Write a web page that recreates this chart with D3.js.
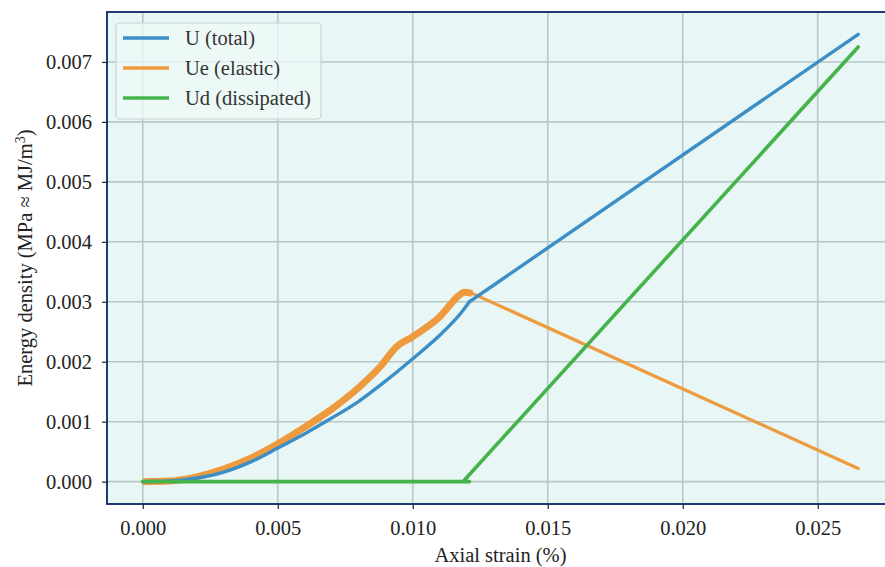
<!DOCTYPE html>
<html><head><meta charset="utf-8">
<script src="https://cdn.jsdelivr.net/npm/d3@7"></script>
<style>body{margin:0;background:#fff}svg{display:block}text{font-family:"Liberation Serif","Times New Roman",serif}</style>
</head><body><svg id="c" width="885" height="567"></svg>
<script>
// Data
const uStrain = [0,0.001,0.002,0.003,0.004,0.005,0.006,0.007,0.008,0.009,0.010,0.011,0.0118,0.0121,0.0265];
const uTotal  = [0,0.00001,0.00006,0.00016,0.00033,0.00056,0.00080,0.00106,0.00134,0.00168,0.00205,0.00244,0.00282,0.00300,0.00746];
const ueStrain = [0,0.001,0.002,0.003,0.004,0.005,0.006,0.007,0.008,0.0088,0.0094,0.0100,0.0110,0.0117,0.0119,0.0122,0.0265];
const ueElastic = [0,0.00001,0.00008,0.00021,0.00039,0.00063,0.00091,0.00121,0.00157,0.00192,0.00225,0.00242,0.00275,0.00310,0.00316,0.00314,0.00022];
const udStrain = [0,0.0121,0.0119,0.0265];
const udDiss   = [0,0,0.00002,0.00725];
const xTicks = [0,0.005,0.010,0.015,0.020,0.025];
const yTicks = [0,0.001,0.002,0.003,0.004,0.005,0.006,0.007];
const seriesNames = ["U (total)","Ue (elastic)","Ud (dissipated)"];
const colors = ["#3b8fc6","#ee9a3e","#45b34b"];
const peakStrain = 0.0122;

const svg = d3.select("#c");
const L=107, R=894, T=12, B=504;
const x = d3.scaleLinear().domain([-0.001325,0.027825]).range([L,R]);
const y = d3.scaleLinear().domain([-0.000373,0.007833]).range([B,T]);

svg.append("rect").attr("x",L).attr("y",T).attr("width",R-L).attr("height",B-T).attr("fill","#e8f7f6");
const g = svg.append("g");
// grid
g.selectAll(".gx").data(xTicks).join("line").attr("x1",d=>x(d)).attr("x2",d=>x(d)).attr("y1",T).attr("y2",B)
 .attr("stroke","#b9c7c7").attr("stroke-width",1.6);
g.selectAll(".gy").data(yTicks).join("line").attr("y1",d=>y(d)).attr("y2",d=>y(d)).attr("x1",L).attr("x2",R)
 .attr("stroke","#b9c7c7").attr("stroke-width",1.6);

const line = d3.line().x(d=>x(d[0])).y(d=>y(d[1]));
const smooth = d3.line().x(d=>x(d[0])).y(d=>y(d[1])).curve(d3.curveMonotoneX);
const uData = uStrain.map((s,i)=>[s,uTotal[i]]);
const ueData = ueStrain.map((s,i)=>[s,ueElastic[i]]);
const udData = udStrain.map((s,i)=>[s,udDiss[i]]);
const uKnee = 0.0121;

function draw(data, split, color, w, thickPre){
  const pre = data.filter(d=>d[0]<=split), post = data.filter(d=>d[0]>=split);
  if (thickPre) g.append("path").attr("d",smooth(pre)).attr("fill","none").attr("stroke",color)
    .attr("stroke-width",thickPre).attr("stroke-linejoin","round").attr("stroke-linecap","butt");
  g.append("path").attr("d",smooth(pre)).attr("fill","none").attr("stroke",color)
    .attr("stroke-width",w).attr("stroke-linejoin","round").attr("stroke-linecap","round");
  g.append("path").attr("d",line(post)).attr("fill","none").attr("stroke",color)
    .attr("stroke-width",w).attr("stroke-linejoin","round").attr("stroke-linecap","round");
}
draw(ueData, peakStrain, colors[1], 3.2, 7);
draw(uData, uKnee, colors[0], 3.4, 0);
g.append("path").attr("d",line(udData)).attr("fill","none")
 .attr("stroke",colors[2]).attr("stroke-width",3.6).attr("stroke-linejoin","round").attr("stroke-linecap","round");

// frame
svg.append("rect").attr("x",L).attr("y",T).attr("width",R-L).attr("height",B-T).attr("fill","none")
 .attr("stroke","#1f3a72").attr("stroke-width",2);

// axes
const xa = svg.append("g").attr("transform",`translate(0,${B})`)
 .call(d3.axisBottom(x).tickValues(xTicks).tickFormat(d3.format(".3f")).tickSize(5).tickPadding(11));
const ya = svg.append("g").attr("transform",`translate(${L},0)`)
 .call(d3.axisLeft(y).tickValues(yTicks).tickFormat(d3.format(".3f")).tickSize(5).tickPadding(10));
[xa,ya].forEach(a=>{a.select(".domain").remove();
 a.selectAll("line").attr("stroke","#222").attr("stroke-width",1.2);
 a.selectAll("text").attr("font-size",20.5).attr("fill","#222").attr("font-family","Liberation Serif");});

svg.append("text").attr("x",(L+R)/2).attr("y",562).attr("text-anchor","middle").attr("font-size",20.5).attr("fill","#222")
 .text("Axial strain (%)");
const yl = svg.append("text").attr("transform",`translate(32,${(T+B)/2}) rotate(-90)`).attr("text-anchor","middle")
 .attr("font-size",20.5).attr("fill","#222");
yl.append("tspan").text("Energy density (MPa ≈ MJ/m");
yl.append("tspan").attr("baseline-shift","super").attr("font-size",14).text("3");
yl.append("tspan").text(")");

// legend
const lg = svg.append("g");
lg.append("rect").attr("x",116).attr("y",23).attr("width",205).attr("height",96).attr("rx",4)
 .attr("fill","#eef9f8").attr("fill-opacity",0.8).attr("stroke","#c8d2d2").attr("stroke-width",1.2);
seriesNames.forEach((n,i)=>{
  const yy = 38 + i*30;
  lg.append("line").attr("x1",123).attr("x2",169).attr("y1",yy).attr("y2",yy).attr("stroke",colors[i]).attr("stroke-width",3.5);
  lg.append("text").attr("x",185).attr("y",yy+7).attr("font-size",20.5).attr("fill","#333").text(n);
});
</script></body></html>
